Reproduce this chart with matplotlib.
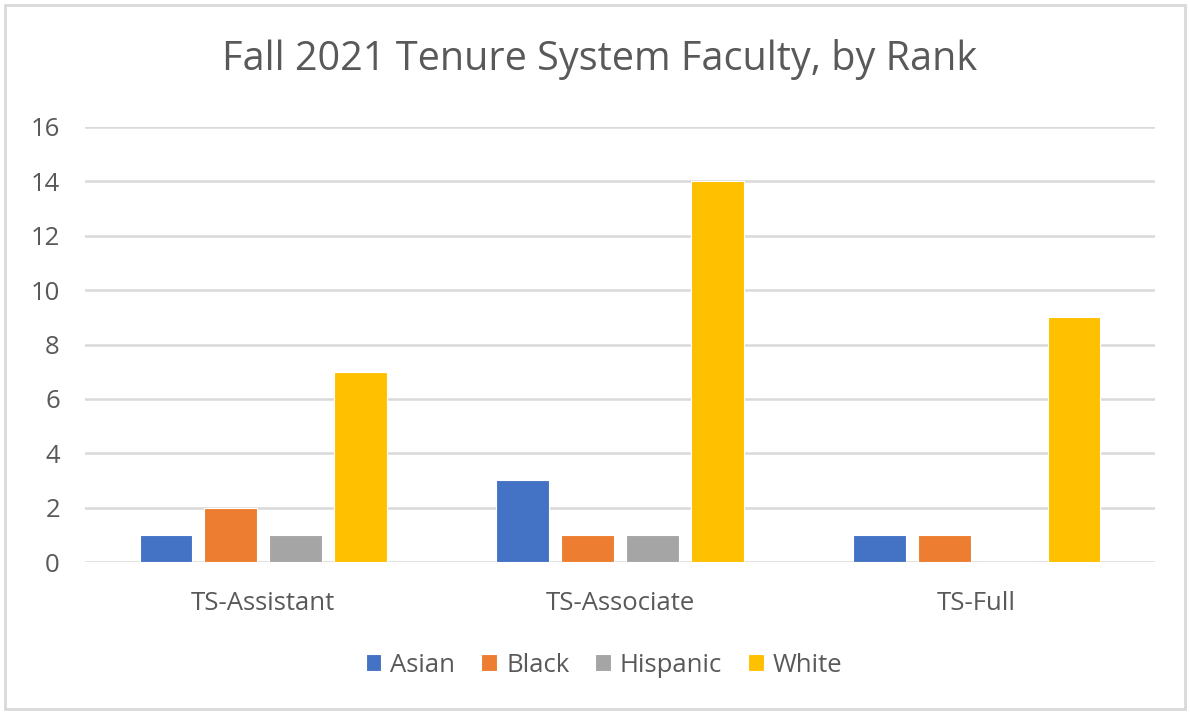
import numpy as np
import matplotlib.pyplot as plt
from matplotlib.patches import Rectangle

plt.rcParams['font.family'] = ['Open Sans', 'DejaVu Sans']

categories = ['TS-Assistant', 'TS-Associate', 'TS-Full']
series_names = ['Asian', 'Black', 'Hispanic', 'White']
asian = [1, 3, 1]
black = [2, 1, 1]
hispanic = [1, 1, 0]
white = [7, 14, 9]
colors = ['#4472C4', '#ED7D31', '#A5A5A5', '#FFC000']

fig = plt.figure(figsize=(11.9, 7.12), dpi=100)
ax = fig.add_axes([85 / 1190, 1 - 562 / 712, (1155 - 85) / 1190, (562 - 127) / 712])

# outer chart border
fig.patches.append(Rectangle((5 / 1190, 3 / 712), 1180 / 1190, 704 / 712,
                             transform=fig.transFigure, fill=False,
                             edgecolor='#D9D9D9', lw=2))

x = np.arange(len(categories))
bar_w = 0.148
stride = 0.182
for i, (name, vals) in enumerate(zip(series_names, [asian, black, hispanic, white])):
    offs = (i - 1.5) * stride
    ax.bar(x + offs, vals, width=bar_w, color=colors[i], label=name,
           edgecolor='white', linewidth=0.8, zorder=3)

ax.set_xlim(-0.5, 2.5)
ax.set_ylim(0, 16)
ax.set_yticks(range(0, 17, 2))
ax.set_xticks(x)
ax.set_xticklabels(categories)
ax.tick_params(axis='both', length=0, labelsize=18.5, colors='#595959')
ax.tick_params(axis='x', pad=21)
ax.tick_params(axis='y', pad=18)
ax.grid(axis='y', color='#D9D9D9', lw=1.8, zorder=0)
for s in ax.spines.values():
    s.set_visible(False)

fig.text(600 / 1190, 1 - 60 / 712, 'Fall 2021 Tenure System Faculty, by Rank',
         ha='center', va='center', fontsize=28.5, color='#595959')

fig.legend(loc='center', bbox_to_anchor=(604 / 1190, 1 - 665 / 712), ncol=4,
           frameon=False, fontsize=18.5, labelcolor='#595959',
           handlelength=0.62, handleheight=0.62, handletextpad=0.35,
           columnspacing=1.0)

fig.savefig('out.png', dpi=100, facecolor='white')
